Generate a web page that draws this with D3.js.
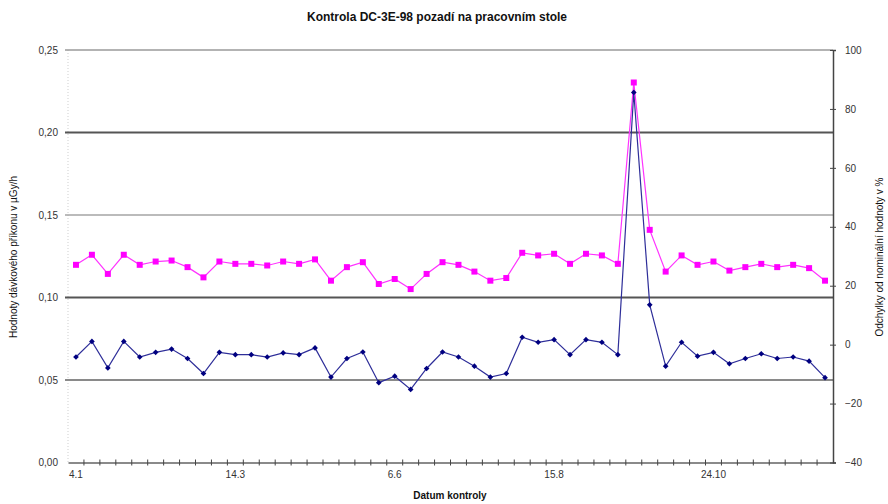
<!DOCTYPE html>
<html>
<head>
<meta charset="utf-8">
<script src="https://cdn.jsdelivr.net/npm/d3@7/dist/d3.min.js"></script>
<style>
  html, body { margin: 0; padding: 0; background: #fff; }
  svg { display: block; font-family: "Liberation Sans", Arial, sans-serif; }
</style>
</head>
<body>
<svg id="chart" width="888" height="504"></svg>
<script>
// Dose rate measured at each check (µGy/h), left axis
const doseRate = [
  0.1198, 0.1259, 0.1143, 0.1259, 0.1198, 0.1218, 0.1224, 0.1184, 0.1122, 0.1218,
  0.1204, 0.1204, 0.1194, 0.1218, 0.1204, 0.1231, 0.1102, 0.1184, 0.1214, 0.1082,
  0.1112, 0.1051, 0.1143, 0.1214, 0.1198, 0.1157, 0.1102, 0.1118, 0.1271, 0.1255,
  0.1265, 0.1204, 0.1265, 0.1255, 0.1204, 0.2303, 0.1410, 0.1157, 0.1255, 0.1198,
  0.1218, 0.1163, 0.1184, 0.1204, 0.1184, 0.1198, 0.1178, 0.1102
];
// Deviation from the nominal value (%), right axis
const deviation = [
  -4.2, 1.1, -7.9, 1.1, -4.2, -2.6, -1.5, -4.7, -9.8, -2.6,
  -3.4, -3.4, -4.2, -2.8, -3.4, -1.1, -11.0, -4.7, -2.5, -12.9,
  -10.7, -15.2, -8.1, -2.5, -4.2, -7.3, -11.0, -9.8, 2.5, 0.8,
  1.7, -3.4, 1.7, 0.8, -3.4, 85.6, 13.5, -7.3, 0.8, -3.9,
  -2.6, -6.5, -4.7, -3.1, -4.7, -4.2, -5.6, -11.2
];
// Check dates shown on the category axis (every tenth check)
const dateLabels = ["4.1", "14.3", "6.6", "15.8", "24.10"];
const labelStep = 10;
const leftTicks = [0, 0.05, 0.10, 0.15, 0.20, 0.25];
const rightTicks = [-40, -20, 0, 20, 40, 60, 80, 100];

const titleText = "Kontrola DC-3E-98 pozadí na pracovním stole";
const leftTitle = "Hodnoty dávkového příkonu v µGy/h";
const rightTitle = "Odchylky od nominální hodnoty v %";
const xTitle = "Datum kontroly";

const svg = d3.select("#chart");
const L = 68, R = 833, T = 50, B = 462.5;

const x = d3.scaleBand().domain(d3.range(doseRate.length)).range([L, R]).padding(0);
const yL = d3.scaleLinear().domain([0, 0.25]).range([B, T]);
const yR = d3.scaleLinear().domain([-40, 100]).range([B, T]);
const cx = i => x(i) + x.bandwidth() / 2;

const csFmt = d3.formatLocale({ decimal: ",", thousands: " ", grouping: [3], currency: ["", ""] }).format(".2f");

// Title
svg.append("text").attr("x", 437).attr("y", 21).attr("text-anchor", "middle")
  .attr("font-size", 12).attr("font-weight", "bold").attr("fill", "#111").text(titleText);

// Left axis guide (dotted)
svg.append("line").attr("x1", L).attr("x2", L).attr("y1", T).attr("y2", B)
  .attr("stroke", "#cfcfcf").attr("stroke-dasharray", "1,2");

// Horizontal gridlines at left-axis ticks
const gridStyle = { 0.05: ["#8a8a8a", 2], 0.10: ["#555", 2], 0.15: ["#a5a5a5", 1.5], 0.20: ["#555", 2], 0.25: ["#9a9a9a", 1.5] };
svg.append("g").selectAll("line").data(leftTicks.filter(d => d > 0)).join("line")
  .attr("x1", L - 3).attr("x2", R)
  .attr("y1", d => yL(d)).attr("y2", d => yL(d))
  .attr("stroke", d => gridStyle[d.toFixed(2) * 1][0])
  .attr("stroke-width", d => gridStyle[d.toFixed(2) * 1][1]);

// Left tick labels
svg.append("g").selectAll("text").data(leftTicks).join("text")
  .attr("x", 58).attr("y", d => yL(d) + 3.5).attr("text-anchor", "end")
  .attr("font-size", 10).attr("fill", "#333").text(d => csFmt(d));

// Bottom axis
const gx = svg.append("g").attr("transform", `translate(0,${B})`)
  .call(d3.axisBottom(x).tickSize(0).tickPadding(8)
    .tickFormat(i => i % labelStep === 0 ? dateLabels[i / labelStep] : ""));
gx.select(".domain").attr("stroke", "#8a8a8a").attr("stroke-width", 2);
gx.selectAll("text").attr("font-size", 10).attr("fill", "#333")
  .attr("font-family", "Liberation Sans, Arial, sans-serif");
// Category boundary tick marks
svg.append("g").selectAll("line").data(d3.range(1, doseRate.length)).join("line")
  .attr("x1", i => x(i)).attr("x2", i => x(i))
  .attr("y1", B - 3).attr("y2", B + 3)
  .attr("stroke", "#444").attr("stroke-width", 1);

// Right axis
const gr = svg.append("g").attr("transform", `translate(${R},0)`)
  .call(d3.axisRight(yR).tickValues(rightTicks).tickSize(3).tickPadding(9).tickFormat(d3.format("d")));
gr.select(".domain").attr("stroke", "#444").attr("stroke-width", 1.5);
gr.selectAll(".tick line").attr("stroke", "#444").attr("x1", -3);
gr.selectAll("text").attr("font-size", 10).attr("fill", "#333")
  .attr("font-family", "Liberation Sans, Arial, sans-serif");

// Axis titles
svg.append("text").attr("transform", "translate(17,257) rotate(-90)").attr("text-anchor", "middle")
  .attr("font-size", 10).attr("fill", "#111").text(leftTitle);
svg.append("text").attr("transform", "translate(883,257) rotate(-90)").attr("text-anchor", "middle")
  .attr("font-size", 10).attr("fill", "#111").text(rightTitle);
svg.append("text").attr("x", 450).attr("y", 499).attr("text-anchor", "middle")
  .attr("font-size", 10).attr("font-weight", "bold").attr("fill", "#111").text(xTitle);

// Dose rate series (magenta squares)
svg.append("path").datum(doseRate)
  .attr("d", d3.line().x((d, i) => cx(i)).y(d => yL(d)))
  .attr("fill", "none").attr("stroke", "#ff33ff").attr("stroke-width", 1.2);
svg.append("g").selectAll("path").data(doseRate).join("path")
  .attr("transform", (d, i) => `translate(${cx(i)},${yL(d)})`)
  .attr("d", d3.symbol(d3.symbolSquare, 36))
  .attr("fill", "#ff00ff");

// Deviation series (navy diamonds)
svg.append("path").datum(deviation)
  .attr("d", d3.line().x((d, i) => cx(i)).y(d => yR(d)))
  .attr("fill", "none").attr("stroke", "#2e2e99").attr("stroke-width", 1.2);
svg.append("g").selectAll("path").data(deviation).join("path")
  .attr("transform", (d, i) => `translate(${cx(i)},${yR(d)}) rotate(45)`)
  .attr("d", d3.symbol(d3.symbolSquare, 16))
  .attr("fill", "#000080");
</script>
</body>
</html>
